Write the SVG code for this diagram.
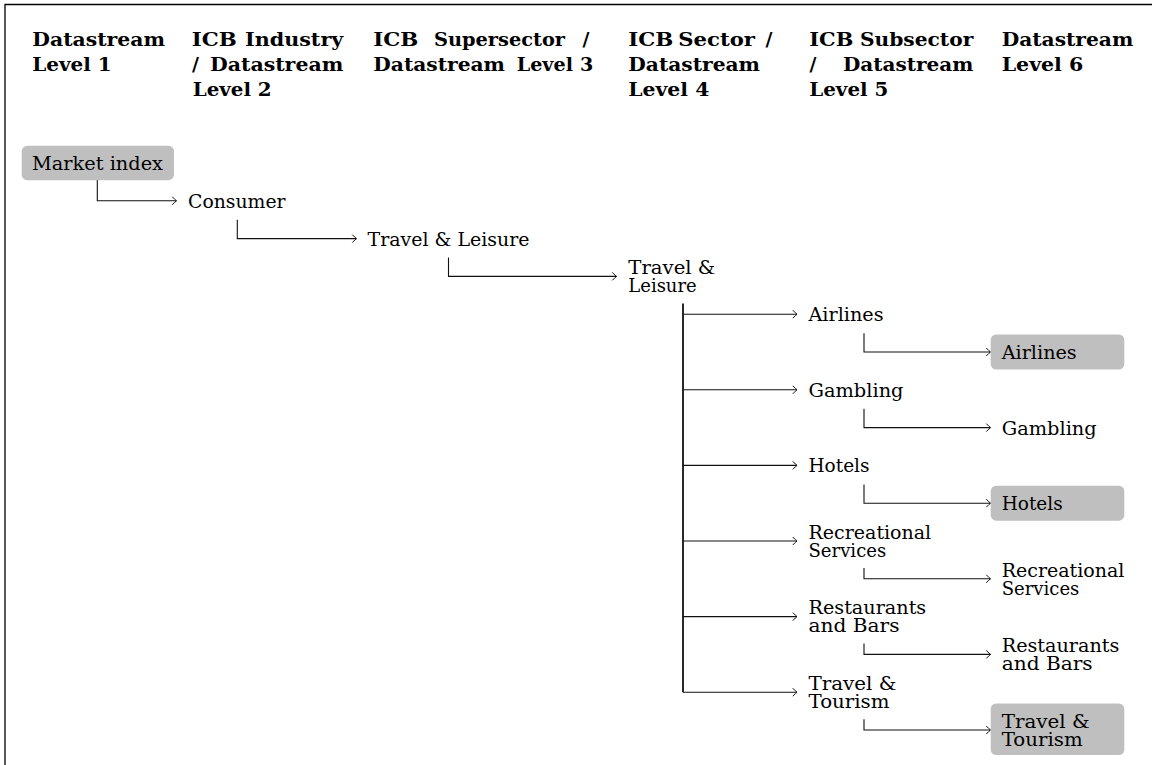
<svg xmlns="http://www.w3.org/2000/svg" width="1152" height="765" viewBox="0 0 1152 765">
<style>
.t{font-family:"DejaVu Serif","Liberation Serif",serif;font-size:19px;fill:#000}
.h{font-family:"DejaVu Serif","Liberation Serif",serif;font-size:19px;font-weight:bold;fill:#000}
.box{fill:#bfbfbf;stroke:none}
.c{fill:none;stroke:#111;stroke-width:1.1}
.trunk{fill:none;stroke:#111;stroke-width:1.8}
.frame{fill:none;stroke:#000;stroke-width:1.3}
</style>
<defs>
<marker id="to" markerUnits="userSpaceOnUse" viewBox="-6 -5 7 10" markerWidth="7" markerHeight="10" refX="0" refY="0" orient="auto" overflow="visible">
<path d="M-4.2,-4 Q-1.2,-0.8 0,0 Q-1.2,0.8 -4.2,4" fill="none" stroke="#111" stroke-width="1"/>
</marker>
</defs>
<rect width="1152" height="765" fill="#fff"/>
<path class="frame" d="M5,765 V4.5 H1152"/>

<g id="headers">
<g id="h1">
<text class="h" x="32.3" y="46" textLength="132.7" lengthAdjust="spacingAndGlyphs">Datastream</text>
<text class="h" x="32.3" y="71" textLength="79.4" lengthAdjust="spacingAndGlyphs">Level 1</text>
</g>
<g id="h2">
<text class="h" y="46"><tspan x="191.7" textLength="45" lengthAdjust="spacingAndGlyphs">ICB</tspan> <tspan x="245" textLength="98.3" lengthAdjust="spacingAndGlyphs">Industry</tspan></text>
<text class="h" y="71"><tspan x="192">/</tspan> <tspan x="210" textLength="133.3" lengthAdjust="spacingAndGlyphs">Datastream</tspan></text>
<text class="h" x="192.7" y="96" textLength="79" lengthAdjust="spacingAndGlyphs">Level 2</text>
</g>
<g id="h3">
<text class="h" y="46"><tspan x="373.3" textLength="45" lengthAdjust="spacingAndGlyphs">ICB</tspan> <tspan x="434" textLength="131" lengthAdjust="spacingAndGlyphs">Supersector</tspan> <tspan x="582.5">/</tspan></text>
<text class="h" y="71"><tspan x="373.3" textLength="131.7" lengthAdjust="spacingAndGlyphs">Datastream</tspan> <tspan x="516.7" textLength="56.3" lengthAdjust="spacingAndGlyphs">Level</tspan> <tspan x="580" textLength="13.3" lengthAdjust="spacingAndGlyphs">3</tspan></text>
</g>
<g id="h4">
<text class="h" y="46"><tspan x="628.3" textLength="45" lengthAdjust="spacingAndGlyphs">ICB</tspan> <tspan x="678.3" textLength="76.7" lengthAdjust="spacingAndGlyphs">Sector</tspan> <tspan x="765.5">/</tspan></text>
<text class="h" x="628.3" y="71" textLength="131.7" lengthAdjust="spacingAndGlyphs">Datastream</text>
<text class="h" x="628.3" y="96" textLength="81" lengthAdjust="spacingAndGlyphs">Level 4</text>
</g>
<g id="h5">
<text class="h" y="46"><tspan x="809.3" textLength="44" lengthAdjust="spacingAndGlyphs">ICB</tspan> <tspan x="860" textLength="113.3" lengthAdjust="spacingAndGlyphs">Subsector</tspan></text>
<text class="h" y="71"><tspan x="809.5">/</tspan> <tspan x="843" textLength="130.3" lengthAdjust="spacingAndGlyphs">Datastream</tspan></text>
<text class="h" x="809.3" y="96" textLength="79" lengthAdjust="spacingAndGlyphs">Level 5</text>
</g>
<g id="h6">
<text class="h" x="1001.7" y="46" textLength="131.6" lengthAdjust="spacingAndGlyphs">Datastream</text>
<text class="h" x="1001.7" y="71" textLength="81.6" lengthAdjust="spacingAndGlyphs">Level 6</text>
</g>
</g>

<g id="connectors">
<path class="c" d="M97.3,180 V200.8 H176.5" marker-end="url(#to)"/>
<path class="c" d="M237.3,219.8 V238.6 H356.5" marker-end="url(#to)"/>
<path class="c" d="M448.5,257.6 V276.4 H616.5" marker-end="url(#to)"/>
<path class="trunk" d="M683,303.4 V692.2"/>
<path class="c" d="M683,314.2 H797" marker-end="url(#to)"/>
<path class="c" d="M683,389.8 H797" marker-end="url(#to)"/>
<path class="c" d="M683,465.4 H797" marker-end="url(#to)"/>
<path class="c" d="M683,541 H797" marker-end="url(#to)"/>
<path class="c" d="M683,616.6 H797" marker-end="url(#to)"/>
<path class="c" d="M683,692.2 H797" marker-end="url(#to)"/>
<path class="c" d="M864,333.2 V352 H990.5" marker-end="url(#to)"/>
<path class="c" d="M864,408.8 V427.6 H990.5" marker-end="url(#to)"/>
<path class="c" d="M864,484.4 V503.2 H990.5" marker-end="url(#to)"/>
<path class="c" d="M864,568 V578.8 H990.5" marker-end="url(#to)"/>
<path class="c" d="M864,643.6 V654.4 H990.5" marker-end="url(#to)"/>
<path class="c" d="M864,719.2 V730 H990.5" marker-end="url(#to)"/>
</g>

<g id="market-index">
<rect class="box" x="21.7" y="145.8" width="152.3" height="34.4" rx="5.5"/>
<text class="t" x="32" y="170" textLength="131" lengthAdjust="spacingAndGlyphs">Market index</text>
</g>
<g id="consumer">
<text class="t" x="188" y="207.8" textLength="97.5" lengthAdjust="spacingAndGlyphs">Consumer</text>
</g>
<g id="travel-leisure-supersector">
<text class="t" x="367.5" y="245.6" textLength="162" lengthAdjust="spacingAndGlyphs">Travel &amp; Leisure</text>
</g>
<g id="travel-leisure-sector">
<text class="t"><tspan x="628.3" y="274.1" textLength="87" lengthAdjust="spacingAndGlyphs">Travel &amp;</tspan><tspan x="628.3" y="292.1" textLength="68.4" lengthAdjust="spacingAndGlyphs">Leisure</tspan></text>
</g>

<g id="airlines-5">
<text class="t" x="808.5" y="321.2" textLength="75" lengthAdjust="spacingAndGlyphs">Airlines</text>
</g>
<g id="gambling-5">
<text class="t" x="808.5" y="396.8" textLength="95" lengthAdjust="spacingAndGlyphs">Gambling</text>
</g>
<g id="hotels-5">
<text class="t" x="808.5" y="472.4" textLength="61" lengthAdjust="spacingAndGlyphs">Hotels</text>
</g>
<g id="recreational-5">
<text class="t"><tspan x="808.5" y="538.7" textLength="122.7" lengthAdjust="spacingAndGlyphs">Recreational</tspan><tspan x="808.5" y="556.7" textLength="77.7" lengthAdjust="spacingAndGlyphs">Services</tspan></text>
</g>
<g id="restaurants-5">
<text class="t"><tspan x="808.5" y="614.3" textLength="117.7" lengthAdjust="spacingAndGlyphs">Restaurants</tspan><tspan x="808.5" y="632.3" textLength="91" lengthAdjust="spacingAndGlyphs">and Bars</tspan></text>
</g>
<g id="travel-tourism-5">
<text class="t"><tspan x="808.5" y="689.9" textLength="88" lengthAdjust="spacingAndGlyphs">Travel &amp;</tspan><tspan x="808.5" y="707.9" textLength="81" lengthAdjust="spacingAndGlyphs">Tourism</tspan></text>
</g>

<g id="airlines-6">
<rect class="box" x="990.7" y="334.5" width="133.6" height="35" rx="5.5"/>
<text class="t" x="1001.7" y="359.2" textLength="75" lengthAdjust="spacingAndGlyphs">Airlines</text>
</g>
<g id="gambling-6">
<text class="t" x="1001.7" y="434.6" textLength="95" lengthAdjust="spacingAndGlyphs">Gambling</text>
</g>
<g id="hotels-6">
<rect class="box" x="990.7" y="485.7" width="133.6" height="35" rx="5.5"/>
<text class="t" x="1001.7" y="510.2" textLength="61" lengthAdjust="spacingAndGlyphs">Hotels</text>
</g>
<g id="recreational-6">
<text class="t"><tspan x="1001.7" y="576.5" textLength="122.7" lengthAdjust="spacingAndGlyphs">Recreational</tspan><tspan x="1001.7" y="594.5" textLength="77.7" lengthAdjust="spacingAndGlyphs">Services</tspan></text>
</g>
<g id="restaurants-6">
<text class="t"><tspan x="1001.7" y="652.1" textLength="117.7" lengthAdjust="spacingAndGlyphs">Restaurants</tspan><tspan x="1001.7" y="670.1" textLength="91" lengthAdjust="spacingAndGlyphs">and Bars</tspan></text>
</g>
<g id="travel-tourism-6">
<rect class="box" x="990.7" y="703.5" width="133.6" height="51.5" rx="5.5"/>
<text class="t"><tspan x="1001.7" y="727.7" textLength="88" lengthAdjust="spacingAndGlyphs">Travel &amp;</tspan><tspan x="1001.7" y="745.7" textLength="81" lengthAdjust="spacingAndGlyphs">Tourism</tspan></text>
</g>
</svg>
